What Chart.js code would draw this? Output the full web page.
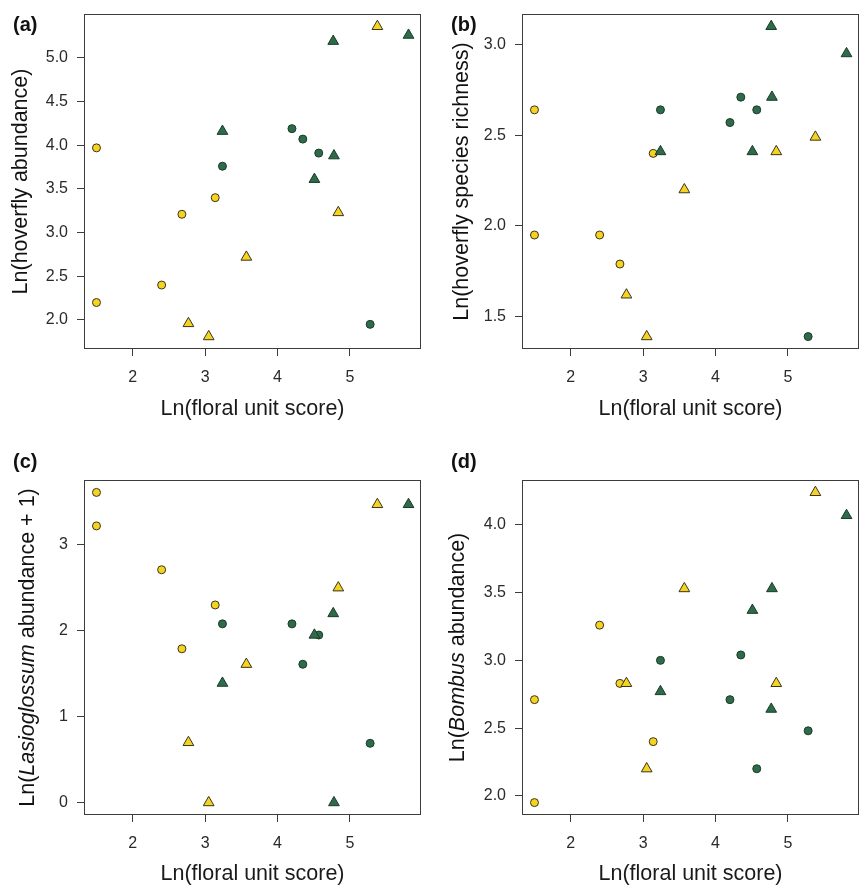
<!DOCTYPE html>
<html>
<head>
<meta charset="utf-8">
<script src="https://cdn.jsdelivr.net/npm/chart.js@4/dist/chart.umd.min.js"></script>
<style>
  body { margin: 0; background: #fff; width: 860px; height: 885px; overflow: hidden; position: relative; }
  canvas { position: absolute; }
</style>
</head>
<body>
<canvas id="pa" width="430" height="440" style="left:0;top:0"></canvas>
<canvas id="pb" width="430" height="440" style="left:430px;top:0"></canvas>
<canvas id="pc" width="430" height="448" style="left:0;top:440px"></canvas>
<canvas id="pd" width="430" height="448" style="left:430px;top:440px"></canvas>
<script>
// Ln(floral unit score) per site, by group
const xYellowCircle   = [1.50, 1.50, 2.40, 2.68, 3.14];
const xYellowTriangle = [2.77, 3.05, 3.57, 4.84, 5.38];
const xGreenCircle    = [3.24, 4.20, 4.35, 4.57, 5.28];
const xGreenTriangle  = [3.24, 4.77, 4.78, 4.51, 5.81];

// (a) Ln(hoverfly abundance)
const aYellowCircle   = [3.97, 2.20, 2.40, 3.21, 3.40];
const aYellowTriangle = [1.96, 1.81, 2.72, 3.23, 5.36];
const aGreenCircle    = [3.76, 4.19, 4.07, 3.91, 1.95];
const aGreenTriangle  = [4.16, 5.19, 3.88, 3.61, 5.26];

// (b) Ln(hoverfly species richness)
const bYellowCircle   = [2.64, 1.95, 1.95, 1.79, 2.40];
const bYellowTriangle = [1.62, 1.39, 2.20, 2.41, 2.49];
const bGreenCircle    = [2.64, 2.57, 2.71, 2.64, 1.39];
const bGreenTriangle  = [2.41, 3.10, 2.71, 2.41, 2.95];

// (c) Ln(Lasioglossum abundance + 1)
const cYellowCircle   = [3.61, 3.22, 2.71, 1.79, 2.30];
const cYellowTriangle = [0.70, 0.00, 1.61, 2.50, 3.47];
const cGreenCircle    = [2.08, 2.08, 1.61, 1.95, 0.69];
const cGreenTriangle  = [1.39, 2.20, 0.00, 1.95, 3.47];

// (d) Ln(Bombus abundance)
const dYellowCircle   = [2.71, 1.95, 3.26, 2.83, 2.40];
const dYellowTriangle = [2.83, 2.20, 3.53, 2.83, 4.24];
const dGreenCircle    = [3.00, 2.71, 3.04, 2.20, 2.48];
const dGreenTriangle  = [2.77, 2.64, 3.53, 3.37, 4.07];

// tick values
const xTicks = [2, 3, 4, 5];
const aTicks = [2.0, 2.5, 3.0, 3.5, 4.0, 4.5, 5.0];
const bTicks = [1.5, 2.0, 2.5, 3.0];
const cTicks = [0, 1, 2, 3];
const dTicks = [2.0, 2.5, 3.0, 3.5, 4.0];

const FONT = '"Liberation Sans", Arial, Helvetica, sans-serif';
Chart.defaults.font.family = FONT;

const YELLOW = '#f4d321';
const GREEN = '#2e6b4a';

// R-style box, panel letter and (partly italic) y title
const panelDecor = {
  id: 'panelDecor',
  afterDraw(chart, args, opts) {
    const { ctx, chartArea: a } = chart;
    ctx.save();
    ctx.strokeStyle = '#3c3c3c';
    ctx.lineWidth = 1;
    ctx.strokeRect(a.left + 0.5, a.top + 0.5, a.right - a.left - 1, a.bottom - a.top - 1);

    ctx.fillStyle = '#111';
    ctx.textAlign = 'left';
    ctx.textBaseline = 'middle';
    ctx.font = 'bold 20px ' + FONT;
    ctx.fillText(opts.letter, opts.letterX, opts.letterY);

    // y title, rotated
    const size = 21.5;
    const segFont = s => (s.italic ? 'italic ' : '') + size + 'px ' + FONT;
    let total = 0;
    opts.title.forEach(s => { ctx.font = segFont(s); total += ctx.measureText(s.text).width; });
    ctx.translate(opts.titleX, (a.top + a.bottom) / 2);
    ctx.rotate(-Math.PI / 2);
    let x = -total / 2;
    opts.title.forEach(s => {
      ctx.font = segFont(s);
      ctx.fillText(s.text, x, 0);
      x += ctx.measureText(s.text).width;
    });
    ctx.restore();
  }
};

function range4(vals) {
  const lo = Math.min(...vals), hi = Math.max(...vals);
  const pad = (hi - lo) * 0.04;
  return [lo - pad, hi + pad];
}

const xAll = [].concat(xYellowCircle, xYellowTriangle, xGreenCircle, xGreenTriangle);
const [xMin, xMax] = range4(xAll);

function noPad(s) {
  s.paddingTop = 0; s.paddingBottom = 0; s.paddingLeft = 0; s.paddingRight = 0;
}

function makePanel(id, p) {
  const el = document.getElementById(id);
  const W = el.width, H = el.height;
  const groups = [
    { x: xGreenTriangle,  y: p.gt, style: 'triangle', r: 6.2, fill: GREEN,  line: '#1b3a28' },
    { x: xYellowTriangle, y: p.yt, style: 'triangle', r: 6.2, fill: YELLOW, line: '#3a3320' },
    { x: xGreenCircle,    y: p.gc, style: 'circle',   r: 4,   fill: GREEN,  line: '#1b3a28' },
    { x: xYellowCircle,   y: p.yc, style: 'circle',   r: 4,   fill: YELLOW, line: '#3a3320' }
  ];
  const [yMin, yMax] = range4([].concat(p.yc, p.yt, p.gc, p.gt));
  const tickFont = { size: 16 };
  const grid = { drawOnChartArea: false, drawTicks: true, tickLength: 7, tickColor: '#3c3c3c', tickWidth: 1 };

  new Chart(el, {
    type: 'scatter',
    data: {
      datasets: groups.map(g => ({
        data: g.x.map((x, i) => ({ x: x, y: g.y[i] })),
        pointStyle: g.style,
        pointRadius: g.r,
        pointHoverRadius: g.r,
        backgroundColor: g.fill,
        borderColor: g.line,
        borderWidth: 1,
        clip: false
      }))
    },
    options: {
      responsive: false,
      animation: false,
      events: [],
      layout: { autoPadding: false, padding: { left: 0, top: p.T, right: W - p.R, bottom: 0 } },
      plugins: {
        legend: { display: false },
        tooltip: { enabled: false },
        panelDecor: { letter: p.letter, letterX: p.letterX, letterY: p.letterY, title: p.title, titleX: p.titleX }
      },
      scales: {
        x: {
          type: 'linear', position: 'bottom', min: xMin, max: xMax,
          afterFit: s => { s.height = H - p.B; noPad(s); },
          afterBuildTicks: s => { s.ticks = xTicks.map(v => ({ value: v })); },
          ticks: { callback: v => v.toFixed(0), font: tickFont, color: '#2a2a2a', padding: 12 },
          grid: grid,
          border: { display: false },
          title: { display: true, text: 'Ln(floral unit score)', color: '#1a1a1a', font: { size: 21.5 }, padding: { top: 0, bottom: p.xTitlePad } }
        },
        y: {
          type: 'linear', position: 'left', min: yMin, max: yMax,
          afterFit: s => { s.width = p.L; noPad(s); },
          afterBuildTicks: s => { s.ticks = p.ticks.map(v => ({ value: v })); },
          ticks: { callback: v => v.toFixed(p.dec), font: tickFont, color: '#2a2a2a', padding: 9 },
          grid: grid,
          border: { display: false }
        }
      }
    },
    plugins: [panelDecor]
  });
}

makePanel('pa', {
  yc: aYellowCircle, yt: aYellowTriangle, gc: aGreenCircle, gt: aGreenTriangle,
  ticks: aTicks, dec: 1, L: 84, R: 421, T: 14, B: 349, xTitlePad: 18.5,
  letter: '(a)', letterX: 13, letterY: 25, titleX: 21,
  title: [{ text: 'Ln(hoverfly abundance)' }]
});
makePanel('pb', {
  yc: bYellowCircle, yt: bYellowTriangle, gc: bGreenCircle, gt: bGreenTriangle,
  ticks: bTicks, dec: 1, L: 92, R: 429, T: 14, B: 349, xTitlePad: 18.5,
  letter: '(b)', letterX: 21, letterY: 25, titleX: 32,
  title: [{ text: 'Ln(hoverfly species richness)' }]
});
makePanel('pc', {
  yc: cYellowCircle, yt: cYellowTriangle, gc: cGreenCircle, gt: cGreenTriangle,
  ticks: cTicks, dec: 0, L: 84, R: 421, T: 40, B: 375, xTitlePad: 1.5,
  letter: '(c)', letterX: 13, letterY: 22, titleX: 28,
  title: [{ text: 'Ln(' }, { text: 'Lasioglossum', italic: true }, { text: ' abundance + 1)' }]
});
makePanel('pd', {
  yc: dYellowCircle, yt: dYellowTriangle, gc: dGreenCircle, gt: dGreenTriangle,
  ticks: dTicks, dec: 1, L: 92, R: 429, T: 40, B: 375, xTitlePad: 1.5,
  letter: '(d)', letterX: 21, letterY: 22, titleX: 28,
  title: [{ text: 'Ln(' }, { text: 'Bombus', italic: true }, { text: ' abundance)' }]
});
</script>
</body>
</html>
